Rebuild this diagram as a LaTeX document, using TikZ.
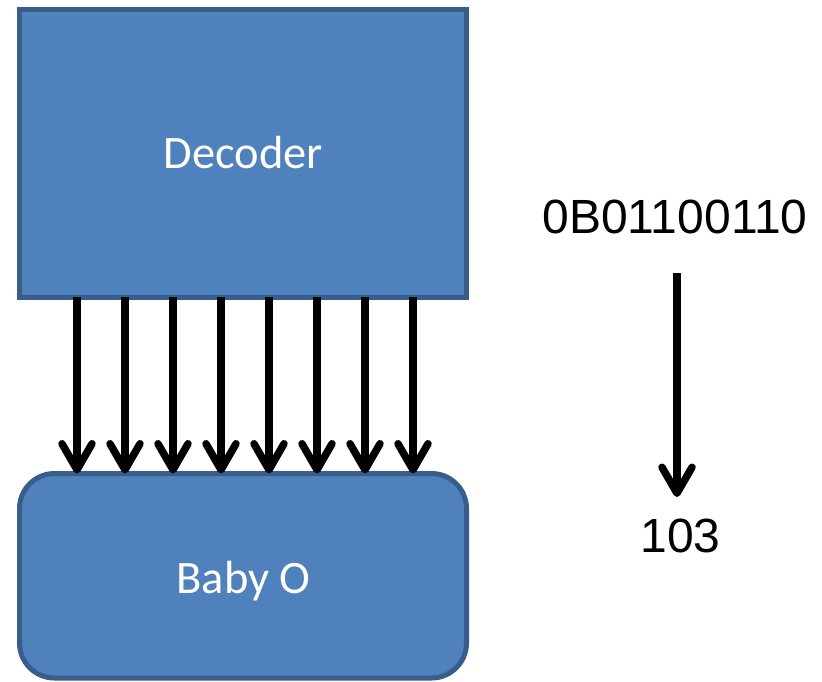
\documentclass[tikz,border=0pt]{standalone}
\usepackage{fontspec}
\setmainfont{Liberation Sans}
\newfontfamily\boxfont{Carlito}
\usetikzlibrary{arrows.meta}
\definecolor{blockfill}{HTML}{4F81BD}
\definecolor{blockedge}{HTML}{385D8A}
\begin{document}
\begin{tikzpicture}[x=1pt,y=-1pt,
  block/.style={draw=blockedge, fill=blockfill, line width=5pt,
    minimum width=447pt, inner sep=0pt, outer sep=0pt},
  blocklabel/.style={anchor=base, text=white, inner sep=0pt,
    font=\boxfont\fontsize{46.5}{56}\selectfont},
  numlabel/.style={anchor=base, inner sep=0pt,
    font=\fontsize{48}{58}\selectfont},
  bitarrow/.style={line width=7.5pt,
    -{Straight Barb[round, length=26pt, width=30pt]}}]
  \useasboundingbox (0,0) rectangle (822,681);

  % decoder and display blocks
  \node[block, minimum height=287.5pt] (dec) at (243,153.25) {};
  \node[block, minimum height=204.5pt, rounded corners=35pt] (baby) at (243,575.75) {};
  \node[blocklabel] (declabel) at (243.5,168) {Decoder};
  \node[blocklabel] (babylabel) at (243.5,593) {Baby O};

  % eight parallel bit lines
  \foreach \x in {77,125,173,221,269,317,365,413}
    \draw[bitarrow] (dec.south -| \x,0) -- (baby.north -| \x,0);

  % conversion example
  \node[numlabel] (bin) at (675,233) {0B01100110};
  \node[numlabel] (dec10) at (680.5,552) {103};
  \coordinate (convtop) at (677,273);
  \coordinate (convbot) at (677,497);
  \draw[bitarrow] (convtop) -- (convbot);
\end{tikzpicture}
\end{document}
